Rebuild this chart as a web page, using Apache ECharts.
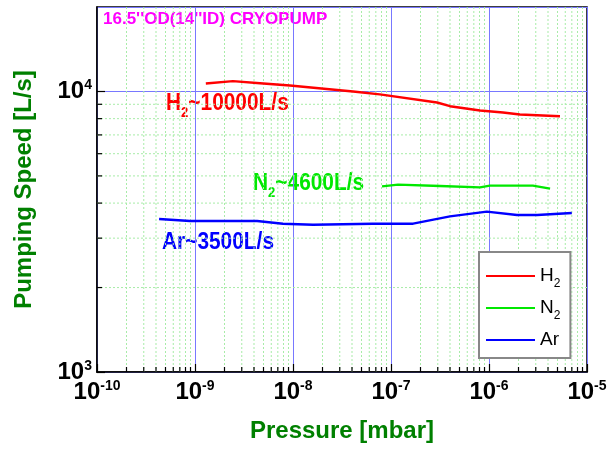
<!DOCTYPE html>
<html>
<head>
<meta charset="utf-8">
<script src="https://cdn.jsdelivr.net/npm/echarts@6/dist/echarts.min.js"></script>
<style>
  html, body { margin: 0; padding: 0; background: #fff; }
  #chart { width: 608px; height: 449px; }
</style>
</head>
<body>
<div id="chart"></div>
<script>
// data (pressure in mbar, speed in L/s)
var h2Pressure = [1.29e-9, 2.44e-9, 4.6e-9, 9.3e-9, 4.1e-8, 7.7e-8, 2.95e-7, 4.0e-7, 8.1e-7, 1.39e-6, 2.07e-6, 5.3e-6];
var h2Speed    = [10680, 10880, 10700, 10500, 10000, 9760, 9135, 8860, 8550, 8414, 8276, 8160];

var n2Pressure = [8.1e-8, 1.18e-7, 3.16e-7, 8.1e-7, 1.02e-6, 2.8e-6, 4.2e-6];
var n2Speed    = [4590, 4656, 4600, 4550, 4615, 4615, 4503];

var arPressure = [4.3e-10, 8.9e-10, 4.3e-9, 7.9e-9, 1.6e-8, 6.5e-8, 1.68e-7, 4.0e-7, 9.5e-7, 1.93e-6, 3.1e-6, 7.0e-6];
var arSpeed    = [3511, 3453, 3453, 3378, 3350, 3378, 3378, 3586, 3728, 3627, 3627, 3688];

// axis structure
var xMin = 1e-10, xMax = 1e-5;
var yMin = 1000, yMax = 20000;
var xDecades = [-10, -9, -8, -7, -6];
var yDecades = [3];
var minorSteps = [2, 3, 4, 5, 6, 7, 8, 9];

var FONT = "'Liberation Sans',Arial,sans-serif";

function zip(a, b) {
  return a.map(function (v, i) { return [v, b[i]]; });
}

var xMinor = [];
xDecades.forEach(function (d) {
  minorSteps.forEach(function (m) { xMinor.push([m * Math.pow(10, d), yMin]); });
});
var yMinor = [];
yDecades.forEach(function (d) {
  minorSteps.forEach(function (m) { yMinor.push([xMin, m * Math.pow(10, d)]); });
});

function powLabel(v) {
  var e = Math.round(Math.log10(v));
  return '{b|10}{s|' + e + '}';
}

var labelRich = {
  b: { fontFamily: FONT, fontWeight: 'bold', fontSize: 24, color: '#000', lineHeight: 26 },
  s: { fontFamily: FONT, fontWeight: 'bold', fontSize: 14, color: '#000', lineHeight: 14, verticalAlign: 'top' }
};

// annotation text inside the plot (narrow bold face imitated with scaleX)
function note(text, sub, rest, color, left, top) {
  return {
    type: 'text', left: left, top: top, scaleX: 0.87,
    style: {
      text: sub ? '{a|' + text + '}{b|' + sub + '}{a|' + rest + '}' : '{a|' + text + '}',
      rich: {
        a: { fontFamily: FONT, fontWeight: 'bold', fontSize: 24, fill: color, lineHeight: 24, verticalAlign: 'top' },
        b: { fontFamily: FONT, fontWeight: 'bold', fontSize: 15, fill: color, lineHeight: 14, verticalAlign: 'top', padding: [14, 0, 0, 0] }
      }
    }
  };
}

var chart = echarts.init(document.getElementById('chart'));

var option = {
  animation: false,
  backgroundColor: '#fff',
  grid: {
    left: 97, top: 7, right: 21, bottom: 77,
    outerBoundsMode: 'none',
    show: true, borderColor: '#000', borderWidth: 1.5, backgroundColor: 'transparent'
  },
  legend: {
    data: ['H2', 'N2', 'Ar'],
    orient: 'vertical',
    left: 479, top: 252,
    padding: [14, 10, 9, 7],
    itemGap: 8,
    itemWidth: 49, itemHeight: 2,
    icon: 'rect',
    backgroundColor: '#fff',
    borderColor: '#888', borderWidth: 2,
    formatter: function (name) {
      return name === 'Ar' ? '{n|Ar}' : '{n|' + name.charAt(0) + '}{s|2}';
    },
    textStyle: {
      rich: {
        n: { fontFamily: FONT, fontSize: 19, color: '#000', lineHeight: 20, verticalAlign: 'top' },
        s: { fontFamily: FONT, fontSize: 12, color: '#000', lineHeight: 12, verticalAlign: 'top', padding: [12, 0, 0, 0] }
      }
    }
  },
  xAxis: {
    type: 'log', logBase: 10, min: xMin, max: xMax,
    name: 'Pressure [mbar]', nameLocation: 'middle', nameGap: 47,
    nameTextStyle: { fontFamily: FONT, fontWeight: 'bold', fontSize: 24, color: '#008000' },
    axisLine: { lineStyle: { color: '#000', width: 1.5 } },
    axisTick: { inside: true, length: 8, lineStyle: { color: '#000', width: 1.2 } },
    axisLabel: { margin: 7, formatter: powLabel, rich: labelRich },
    splitLine: { show: true, lineStyle: { color: '#7878ff', width: 1 } }
  },
  yAxis: {
    type: 'log', logBase: 10, min: yMin, max: yMax,
    name: 'Pumping Speed [L/s]', nameLocation: 'middle', nameGap: 61,
    nameTextStyle: { fontFamily: FONT, fontWeight: 'bold', fontSize: 24, color: '#008000' },
    axisLine: { lineStyle: { color: '#000', width: 1.5 } },
    axisTick: { inside: true, length: 8, lineStyle: { color: '#000', width: 1.2 } },
    axisLabel: { margin: 5, formatter: powLabel, rich: labelRich, showMaxLabel: false },
    splitLine: { show: true, lineStyle: { color: '#7878ff', width: 1 } }
  },
  graphic: [
    {
      type: 'text', left: 103, top: 11,
      style: { text: "16.5''OD(14''ID) CRYOPUMP", fontFamily: FONT, fontWeight: 'bold', fontSize: 17, fill: '#ff00ff' }
    },
    note('H', '2', '~10000L/s', '#ff0000', 166, 91),
    note('N', '2', '~4600L/s', '#00e800', 253, 171),
    note('Ar~3500L/s', '', '', '#0000ff', 162, 230)
  ],
  series: [
    {
      name: 'xMinorGrid', type: 'custom', silent: true, z: 1,
      data: xMinor,
      renderItem: function (params, api) {
        var cs = params.coordSys;
        var p = api.coord([api.value(0), api.value(1)]);
        return {
          type: 'group',
          children: [
            { type: 'line', shape: { x1: p[0], y1: cs.y, x2: p[0], y2: cs.y + cs.height },
              style: { stroke: '#a8eca8', lineWidth: 1, lineDash: [2, 2] } },
            { type: 'line', shape: { x1: p[0], y1: cs.y + cs.height, x2: p[0], y2: cs.y + cs.height - 5 },
              style: { stroke: '#000', lineWidth: 1.2 } }
          ]
        };
      }
    },
    {
      name: 'yMinorGrid', type: 'custom', silent: true, z: 1,
      data: yMinor,
      renderItem: function (params, api) {
        var cs = params.coordSys;
        var p = api.coord([api.value(0), api.value(1)]);
        return {
          type: 'group',
          children: [
            { type: 'line', shape: { x1: cs.x, y1: p[1], x2: cs.x + cs.width, y2: p[1] },
              style: { stroke: '#a8eca8', lineWidth: 1, lineDash: [2, 2] } },
            { type: 'line', shape: { x1: cs.x, y1: p[1], x2: cs.x + 5, y2: p[1] },
              style: { stroke: '#000', lineWidth: 1.2 } }
          ]
        };
      }
    },
    {
      name: 'H2', type: 'line', data: zip(h2Pressure, h2Speed), showSymbol: false, z: 5,
      itemStyle: { color: '#ff0000' }, lineStyle: { color: '#ff0000', width: 2.4 }
    },
    {
      name: 'N2', type: 'line', data: zip(n2Pressure, n2Speed), showSymbol: false, z: 5,
      itemStyle: { color: '#00e800' }, lineStyle: { color: '#00e800', width: 2.4 }
    },
    {
      name: 'Ar', type: 'line', data: zip(arPressure, arSpeed), showSymbol: false, z: 5,
      itemStyle: { color: '#0000ff' }, lineStyle: { color: '#0000ff', width: 2.4 }
    }
  ]
};

chart.setOption(option);
</script>
</body>
</html>
